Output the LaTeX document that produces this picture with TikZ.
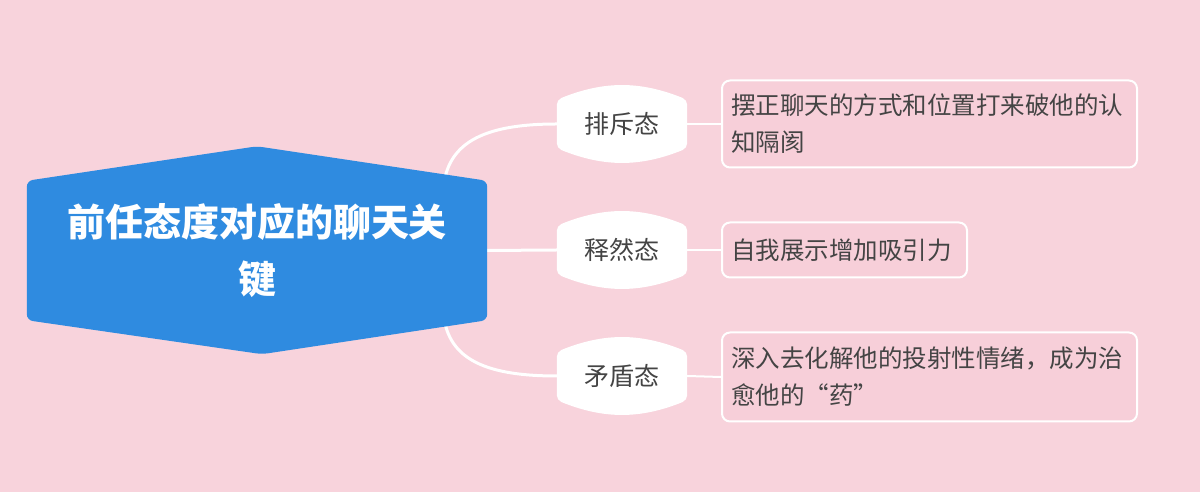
\documentclass[tikz,border=0pt]{standalone}
\usepackage{fontspec}
\setmainfont{Noto Sans CJK SC}
\usetikzlibrary{calc}
\definecolor{bgpink}{HTML}{F8D3DC}
\definecolor{leafpink}{HTML}{F7CFD9}
\definecolor{rootblue}{HTML}{2F8BE0}
\definecolor{txtgray}{HTML}{444444}
\pgfdeclarelayer{bglayer}
\pgfdeclarelayer{shapelayer}
\pgfsetlayers{bglayer,shapelayer,main}
\tikzset{
  rootnode/.style={minimum width=460pt,minimum height=139pt,inner sep=0pt,text=white,align=center,
    font=\bfseries\fontsize{38}{57}\selectfont},
  branchnode/.style={minimum width=130pt,minimum height=48pt,inner sep=0pt,text=txtgray,
    font=\fontsize{25}{30}\selectfont},
  leafnode/.style={draw=white,line width=2pt,fill=leafpink,rounded corners=8pt,inner xsep=9pt,inner ysep=0pt,
    text width=397pt,align=left,text=txtgray,font=\fontsize{24.5}{37}\selectfont},
  curvelink/.style={draw=white,line width=3pt},
  straightlink/.style={draw=white,line width=2pt},
}
\begin{document}
\begin{tikzpicture}[x=1pt,y=1pt]
\begin{pgfonlayer}{bglayer}
\fill[bgpink] (0,0) rectangle (1200,492);
\end{pgfonlayer}
\useasboundingbox (0,0) rectangle (1200,492);

\node[rootnode] (root) at (257,241.5) {前任态度对应的聊天关\\键};

\node[branchnode] (b1) at (622,368) {排斥态};
\node[branchnode] (b2) at (622,242) {释然态};
\node[branchnode] (b3) at (622,116) {矛盾态};

\node[leafnode,minimum height=87pt] (l1) at (929.5,368) {摆正聊天的方式和位置打来破他的认\\知隔阂};
\node[leafnode,text width=227pt,minimum height=55pt] (l2) at (844.5,242) {自我展示增加吸引力};
\node[leafnode,minimum height=89pt] (l3) at (929.5,115) {深入去化解他的投射性情绪，成为治\\愈他的“药”};

\begin{pgfonlayer}{shapelayer}
\fill[rootblue,rounded corners=6pt] (root.north west) -- ($(root.north)+(0,34.5)$) -- (root.north east)
  -- (root.south east) -- ($(root.south)+(5,-34)$) -- (root.south west) -- cycle;
\foreach \b in {b1,b2,b3}{
  \fill[white,rounded corners=5pt] (\b.north west) to[bend left=22] (\b.north east) -- (\b.south east)
    to[bend left=22] (\b.south west) -- cycle;
}
\end{pgfonlayer}

\begin{pgfonlayer}{bglayer}
\draw[curvelink] ($(root.north east)+(-44,-8)$) .. controls ($(root.north east)+(-40,36)$) and ($(b1.west)+(-77,0)$) .. (b1.west);
\draw[curvelink] (root.east) -- (b2.west);
\draw[curvelink] ($(root.south east)+(-44,8)$) .. controls ($(root.south east)+(-40,-36)$) and ($(b3.west)+(-77,0)$) .. (b3.west);
\draw[straightlink] (b1.east) -- (l1.west);
\draw[straightlink] (b2.east) -- (l2.west);
\draw[straightlink] (b3.east) -- (l3.west);
\end{pgfonlayer}
\end{tikzpicture}
\end{document}
